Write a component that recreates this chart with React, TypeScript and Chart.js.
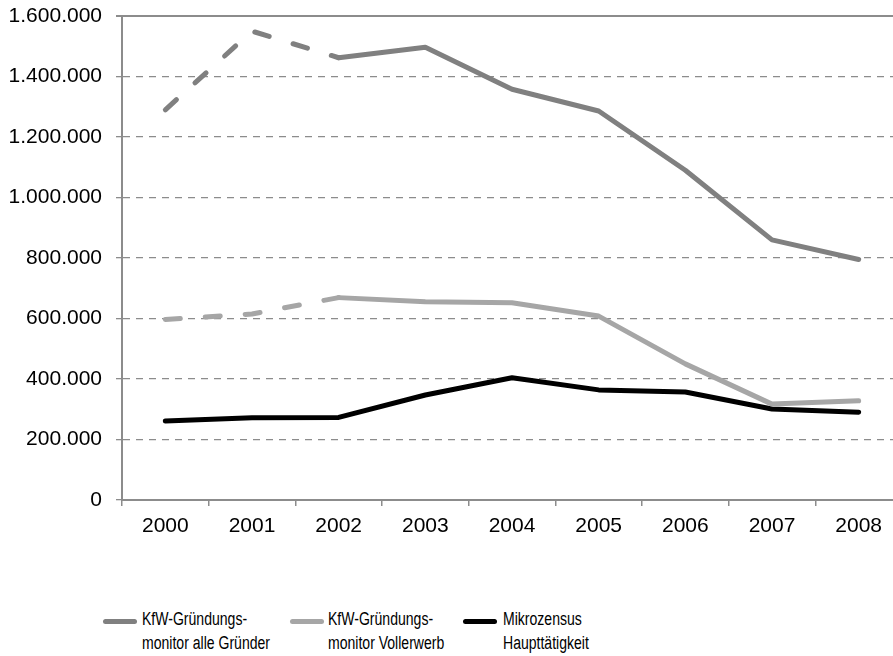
import React, { useEffect, useRef } from "react";
import { Chart, registerables } from "chart.js";

Chart.register(...registerables);

const years = ["2000", "2001", "2002", "2003", "2004", "2005", "2006", "2007", "2008"];
const kfwAlle = [1290000, 1550000, 1462000, 1497000, 1358000, 1286000, 1090000, 860000, 795000];
const kfwVoll = [597000, 615000, 669000, 655000, 652000, 608000, 450000, 317000, 328000];
const mikrozensus = [261000, 272000, 273000, 347000, 404000, 364000, 357000, 301000, 290000];
const seriesLabels = [
  ["KfW-Gründungs-", "monitor alle Gründer"],
  ["KfW-Gründungs-", "monitor Vollerwerb"],
  ["Mikrozensus", "Haupttätigkeit"],
];
const seriesColors = ["#808080", "#a6a6a6", "#000000"];
const yMin = 0;
const yMax = 1600000;
const yStep = 200000;
const dashedUntilIndex = 2;

const fmt = (v: number) => String(Math.round(v)).replace(/\B(?=(\d{3})+(?!\d))/g, ".");

const CANVAS_W = 903;
const CANVAS_H = 545;

export default function App() {
  const ref = useRef<HTMLCanvasElement | null>(null);

  useEffect(() => {
    if (!ref.current) return;
    const dashSeg = (ctx: any) => (ctx.p1DataIndex <= dashedUntilIndex ? [15, 25] : undefined);
    const chart = new Chart(ref.current, {
      type: "line",
      data: {
        labels: years,
        datasets: [
          {
            label: seriesLabels[0].join(" "),
            data: kfwAlle,
            borderColor: seriesColors[0],
            backgroundColor: seriesColors[0],
            borderWidth: 5,
            pointRadius: 0,
            tension: 0,
            borderCapStyle: "round",
            borderJoinStyle: "round",
            segment: { borderDash: dashSeg },
          },
          {
            label: seriesLabels[1].join(" "),
            data: kfwVoll,
            borderColor: seriesColors[1],
            backgroundColor: seriesColors[1],
            borderWidth: 5,
            pointRadius: 0,
            tension: 0,
            borderCapStyle: "round",
            borderJoinStyle: "round",
            segment: { borderDash: dashSeg },
          },
          {
            label: seriesLabels[2].join(" "),
            data: mikrozensus,
            borderColor: seriesColors[2],
            backgroundColor: seriesColors[2],
            borderWidth: 5,
            pointRadius: 0,
            tension: 0,
            borderCapStyle: "round",
            borderJoinStyle: "round",
          },
        ],
      },
      options: {
        responsive: false,
        animation: false,
        layout: { padding: { top: 16, right: 1, left: 0, bottom: 0 } },
        plugins: {
          legend: { display: false },
          tooltip: { enabled: false },
        },
        scales: {
          x: {
            offset: true,
            grid: {
              display: true,
              offset: true,
              drawOnChartArea: false,
              drawTicks: true,
              tickLength: 6,
              color: "#8c8c8c",
              lineWidth: 1.5,
            },
            border: { display: true, color: "#8c8c8c", width: 2 },
            ticks: {
              color: "#000",
              font: { family: "'Liberation Sans', Arial, sans-serif", size: 21 },
              padding: 8,
              maxRotation: 0,
            },
            afterFit: (scale: any) => {
              scale.height = CANVAS_H - 500;
              scale.paddingLeft = 0;
              scale.paddingRight = 0;
            },
          },
          y: {
            min: yMin,
            max: yMax,
            grid: {
              color: "#8c8c8c",
              lineWidth: (ctx: any) => (ctx.tick && ctx.tick.value === yMax ? 2 : 1.3),
              drawTicks: true,
              tickLength: 6,
            },
            border: {
              display: true,
              color: "#8c8c8c",
              width: 2,
              dash: (ctx: any) =>
                ctx.tick && ctx.tick.value !== yMax && ctx.tick.value !== yMin ? [7, 6] : [],
            },
            ticks: {
              stepSize: yStep,
              color: "#000",
              font: { family: "'Liberation Sans', Arial, sans-serif", size: 21 },
              padding: 14,
              callback: (v: any) => fmt(Number(v)),
            },
            afterFit: (scale: any) => {
              scale.width = 122;
              scale.paddingTop = 0;
              scale.paddingBottom = 0;
            },
          },
        },
      },
    });
    return () => chart.destroy();
  }, []);

  const legendPos = [
    { line: 103, text: 142 },
    { line: 290, text: 328 },
    { line: 463, text: 503 },
  ];

  return (
    <div style={{ position: "absolute", left: 0, top: 0, width: 893, height: 656, overflow: "hidden", background: "#fff" }}>
      <canvas ref={ref} width={CANVAS_W} height={CANVAS_H} style={{ position: "absolute", left: 0, top: 0, width: CANVAS_W, height: CANVAS_H }} />
      {seriesLabels.map((lines, i) => (
        <React.Fragment key={i}>
          <div
            style={{
              position: "absolute",
              left: legendPos[i].line,
              top: 618.5,
              width: 34,
              height: 5,
              borderRadius: 2.5,
              background: seriesColors[i],
            }}
          />
          <div
            style={{
              position: "absolute",
              left: legendPos[i].text,
              top: 607,
              fontFamily: "'Liberation Sans', Arial, sans-serif",
              fontSize: 18,
              lineHeight: "24px",
              color: "#000",
              whiteSpace: "nowrap",
              transform: "scaleX(0.78)",
              transformOrigin: "left top",
            }}
          >
            {lines.map((t, j) => (
              <div key={j}>{t}</div>
            ))}
          </div>
        </React.Fragment>
      ))}
    </div>
  );
}
